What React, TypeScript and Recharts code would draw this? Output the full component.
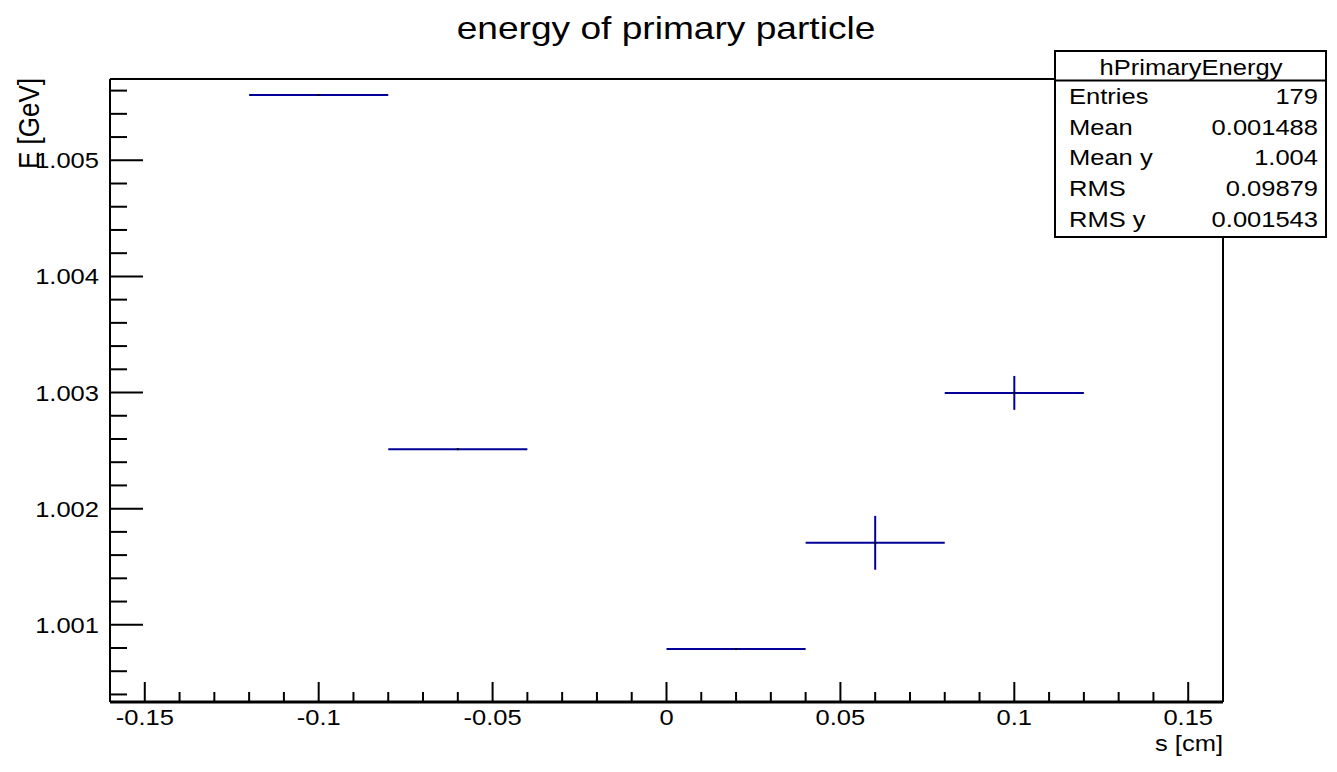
import React from 'react';
import {
  ComposedChart,
  Scatter,
  ErrorBar,
  XAxis,
  YAxis,
} from 'recharts';

// profile bins: centre, mean energy, half bin width, error on mean
const binCenters = [-0.1, -0.06, 0.02, 0.06, 0.1];
const binMeans = [1.005562, 1.002512, 1.000791, 1.001706, 1.002997];
const binHalfWidths = [0.02, 0.02, 0.02, 0.02, 0.02];
const meanErrors = [0, 0, 0, 0.000232, 0.000146];

const xMajorTicks = [-0.15, -0.1, -0.05, 0, 0.05, 0.1, 0.15];
const xMinorTicks = [
  -0.14, -0.13, -0.12, -0.11, -0.09, -0.08, -0.07, -0.06, -0.04, -0.03, -0.02, -0.01,
  0.01, 0.02, 0.03, 0.04, 0.06, 0.07, 0.08, 0.09, 0.11, 0.12, 0.13, 0.14,
];
const xTickLabels = ['-0.15', '-0.1', '-0.05', '0', '0.05', '0.1', '0.15'];

const yMajorTicks = [1.001, 1.002, 1.003, 1.004, 1.005];
const yMinorTicks = [
  1.0004, 1.0006, 1.0008, 1.0012, 1.0014, 1.0016, 1.0018, 1.0022, 1.0024, 1.0026, 1.0028,
  1.0032, 1.0034, 1.0036, 1.0038, 1.0042, 1.0044, 1.0046, 1.0048, 1.0052, 1.0054, 1.0056,
];
const yTickLabels = ['1.001', '1.002', '1.003', '1.004', '1.005'];

const statNames = ['Entries', 'Mean', 'Mean y', 'RMS', 'RMS y'];
const statValues = ['179', '0.001488', '1.004', '0.09879', '0.001543'];

const data = binCenters.map((x, i) => ({
  x,
  y: binMeans[i],
  ex: binHalfWidths[i],
  ey: meanErrors[i],
}));

const W = 1337;
const H = 772;
const FONT = '"Liberation Sans", Arial, Helvetica, sans-serif';
const SX = 1.16; // the root canvas is a bit wider than tall
const BLUE = '#000099';

const SText = ({ x, y, size, anchor = 'start', rotate = false, children }: any) => (
  <text
    transform={`translate(${x},${y}) scale(${SX},1)${rotate ? ' rotate(-90)' : ''}`}
    textAnchor={anchor}
    fontSize={size}
    fontFamily={FONT}
    fill="#000"
  >
    {children}
  </text>
);

const XTick = (props: any) => {
  const { x, y, payload } = props;
  const idx = xMajorTicks.indexOf(payload.value);
  const major = idx >= 0;
  return (
    <g>
      <line x1={x} x2={x} y1={y} y2={y - (major ? 20 : 10)} stroke="#000" strokeWidth={2} />
      {major && (
        <SText x={x} y={y + 23} size={22} anchor="middle">
          {xTickLabels[idx]}
        </SText>
      )}
    </g>
  );
};

const YTick = (props: any) => {
  const { x, y, payload } = props;
  const idx = yMajorTicks.indexOf(payload.value);
  const major = idx >= 0;
  return (
    <g>
      <line x1={x} x2={x + (major ? 33 : 17)} y1={y} y2={y} stroke="#000" strokeWidth={2} />
      {major && (
        <SText x={x - 11} y={y + 8} size={22} anchor="end">
          {yTickLabels[idx]}
        </SText>
      )}
    </g>
  );
};

export default function App() {
  return (
    <div style={{ position: 'absolute', left: 0, top: 0, width: W, height: H, background: '#fff' }}>
      <ComposedChart
        width={W}
        height={H}
        data={data}
        margin={{ top: 78, left: 109, right: 113, bottom: 69 }}
      >
        <XAxis
          xAxisId="b"
          type="number"
          dataKey="x"
          domain={[-0.16, 0.16]}
          allowDataOverflow
          ticks={[...xMajorTicks, ...xMinorTicks]}
          interval={0}
          height={1}
          tickSize={0}
          tickMargin={0}
          tickLine={false}
          tick={XTick}
          axisLine={{ stroke: '#000', strokeWidth: 3 }}
        />
        <XAxis
          xAxisId="t"
          orientation="top"
          type="number"
          domain={[-0.16, 0.16]}
          allowDataOverflow
          height={1}
          tick={false}
          tickLine={false}
          axisLine={{ stroke: '#000', strokeWidth: 2 }}
        />
        <YAxis
          yAxisId="l"
          type="number"
          domain={[1.000335, 1.0057]}
          allowDataOverflow
          ticks={[...yMajorTicks, ...yMinorTicks]}
          interval={0}
          width={1}
          tickSize={0}
          tickMargin={0}
          tickLine={false}
          tick={YTick}
          axisLine={{ stroke: '#000', strokeWidth: 2 }}
        />
        <YAxis
          yAxisId="r"
          orientation="right"
          type="number"
          domain={[1.000335, 1.0057]}
          allowDataOverflow
          width={1}
          tick={false}
          tickLine={false}
          axisLine={{ stroke: '#000', strokeWidth: 2 }}
        />
        <Scatter
          xAxisId="b"
          yAxisId="l"
          dataKey="y"
          isAnimationActive={false}
          shape={(p: any) => <rect x={p.cx - 1} y={p.cy - 1} width={2} height={2} fill="#000" />}
        >
          <ErrorBar dataKey="ex" direction="x" width={0} stroke={BLUE} strokeWidth={2} isAnimationActive={false} />
          <ErrorBar dataKey="ey" direction="y" width={0} stroke={BLUE} strokeWidth={2} isAnimationActive={false} />
        </Scatter>
      </ComposedChart>

      <svg
        width={W}
        height={H}
        style={{ position: 'absolute', left: 0, top: 0, pointerEvents: 'none' }}
      >
        <SText x={666} y={39} size={32} anchor="middle">
          energy of primary particle
        </SText>
        <SText x={1223} y={751} size={22} anchor="end">
          s [cm]
        </SText>
        <SText x={39} y={78} size={26} anchor="end" rotate>
          E [GeV]
        </SText>

        <rect x={1055} y={51} width={271} height={186} fill="#fff" stroke="#000" strokeWidth={2} />
        <line x1={1055} x2={1326} y1={80.5} y2={80.5} stroke="#000" strokeWidth={2} />
        <SText x={1191} y={75} size={22} anchor="middle">
          hPrimaryEnergy
        </SText>
        {statNames.map((name, i) => (
          <g key={name}>
            <SText x={1069} y={104 + i * 30.7} size={22}>
              {name}
            </SText>
            <SText x={1318} y={104 + i * 30.7} size={22} anchor="end">
              {statValues[i]}
            </SText>
          </g>
        ))}
      </svg>
    </div>
  );
}
